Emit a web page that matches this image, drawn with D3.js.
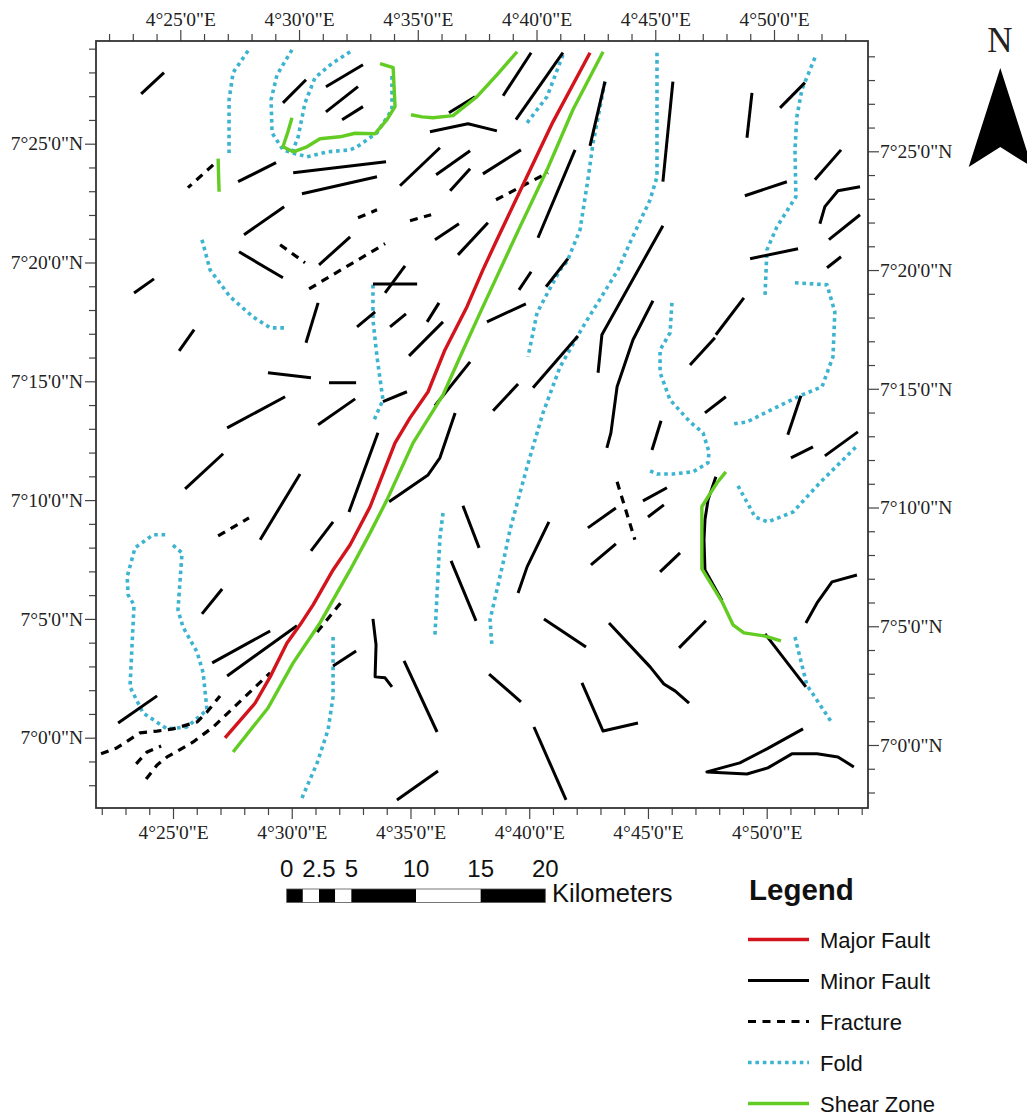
<!DOCTYPE html>
<html>
<head>
<meta charset="utf-8">
<script src="https://d3js.org/d3.v7.min.js"></script>
<style>
  body { margin: 0; background: #fff; }
  svg { display: block; }
  .axis text { font-family: "Liberation Serif", serif; font-size: 19.5px; fill: #222; }
  .axis line { stroke: #444; stroke-width: 1.2; }
  .axis path { display: none; }
  .sans { font-family: "Liberation Sans", Arial, sans-serif; fill: #111; }
  .trace { fill: none; stroke-linejoin: round; }
</style>
</head>
<body>
<svg id="map" width="1027" height="1117"></svg>
<script>
// all traces are [lon, lat] in arc minutes past 4 deg E and past 7 deg N
const majorFault = [[42.56,28.83],[41.00,25.92],[39.74,23.27],[38.64,20.96],[38.05,19.69],[37.38,18.14],[36.45,16.32],[35.74,14.56],[34.98,13.46],[34.35,12.41],[33.30,9.72],[32.46,8.12],[31.74,7.06],[30.90,5.59],[30.35,4.75],[29.80,3.99],[29.09,2.56],[28.46,1.46],[27.19,-0.01]];

const shearZones = [
  [[43.11,28.87],[41.84,26.43],[40.75,23.90],[39.61,21.50],[38.77,19.69],[37.93,17.88],[37.09,16.03],[36.37,14.43],[35.11,12.41],[34.01,10.01],[33.30,8.62],[32.46,7.06],[31.19,4.83],[30.06,3.15],[29.00,1.25],[27.53,-0.60]],
  [[39.49,28.87],[38.64,27.90],[37.80,26.98],[36.79,26.18],[35.95,26.09],[35.49,26.13],[35.02,26.22]],
  [[33.72,28.37],[34.27,28.20],[34.35,26.56],[34.01,26.01],[33.51,25.42],[32.67,25.44],[32.03,25.29],[31.19,25.21],[30.64,24.87],[30.06,24.66],[29.63,24.87],[29.84,25.50],[30.01,26.09]],
  [[26.90,24.37],[26.94,22.98]],
  [[48.28,11.19],[47.91,10.73],[47.53,10.14],[47.27,9.72],[47.27,7.11],[48.12,5.72],[48.58,4.75],[49.04,4.41],[49.93,4.28],[50.60,4.07]]
];

const folds = [
  [[28.16,28.91],[27.53,27.99],[27.36,26.85],[27.36,24.45]],
  [[30.01,28.95],[29.38,27.90],[29.13,26.85],[29.17,25.46],[29.63,24.74],[30.01,24.62],[30.64,24.45],[31.53,24.66],[32.46,24.74],[32.75,24.87],[33.59,25.46],[34.22,26.43],[34.22,27.90]],
  [[32.46,28.87],[31.74,28.41],[30.98,27.78],[30.56,26.72],[30.27,25.29],[30.01,24.62]],
  [[26.22,20.96],[26.56,19.69],[27.40,18.56],[28.37,17.71],[29.09,17.25],[29.80,17.25]],
  [[33.42,19.06],[33.42,17.59],[33.59,16.03],[33.84,14.22],[33.47,13.38]],
  [[41.42,28.74],[40.75,26.98],[39.82,25.76]],
  [[43.19,27.61],[42.69,25.04],[42.47,23.48],[42.14,21.38],[41.59,20.03],[41.30,19.69],[40.66,18.51],[40.33,17.88],[39.95,16.03]],
  [[45.38,28.83],[45.38,23.61],[45.09,22.64],[44.24,20.83],[43.74,19.69],[42.26,17.29],[41.30,15.61],[40.58,13.67],[39.91,11.40],[39.19,8.75],[38.90,7.36],[38.35,4.96],[38.43,3.86]],
  [[52.03,28.62],[51.48,27.27],[51.27,26.13],[51.19,24.74],[51.23,22.77],[50.43,21.50],[50.01,20.53],[49.93,18.64]],
  [[46.01,18.30],[45.93,17.04],[45.51,16.32],[45.51,15.36],[45.93,14.22],[46.77,13.29],[47.32,12.83],[47.57,12.03],[47.53,11.57],[46.90,11.19],[46.05,11.10],[45.38,11.10],[45.09,11.23]],
  [[51.19,19.15],[52.54,19.06],[52.87,17.92],[52.79,16.03],[52.33,14.77],[51.40,14.39],[50.01,13.71],[49.17,13.29],[48.58,13.21]],
  [[48.79,10.60],[49.51,9.29],[50.05,9.08],[51.11,9.50],[52.24,10.73],[53.80,12.28]],
  [[36.37,9.46],[36.24,8.41],[36.03,4.33]],
  [[51.19,4.24],[51.69,2.22],[52.75,0.62]],
  [[24.67,8.54],[24.16,8.54],[23.40,7.99],[23.07,6.77],[23.11,6.01],[23.36,5.59],[23.28,3.99],[23.19,2.14],[23.74,1.04],[24.75,0.37],[25.59,0.45],[26.43,1.17],[26.27,2.73],[26.01,3.61],[25.42,4.66],[25.21,5.38],[25.38,7.78],[24.88,8.20]],
  [[31.74,4.24],[31.74,1.72],[31.53,0.33],[31.07,-1.06],[30.43,-2.54]]
];

const fractures = [
  [[26.69,24.11],[25.63,23.15]],
  [[29.51,20.75],[30.56,19.99]],
  [[30.73,18.89],[33.93,20.79]],
  [[32.79,21.88],[33.59,22.22]],
  [[34.98,21.76],[35.87,22.01]],
  [[38.60,22.64],[40.79,23.78]],
  [[26.90,8.49],[28.20,9.25]],
  [[43.70,10.77],[44.45,8.33]],
  [[21.97,-0.68],[22.63,-0.43],[23.61,0.20],[24.33,0.28],[25.00,0.37],[26.01,0.66],[26.43,1.08],[26.98,1.76]],
  [[23.45,-1.10],[23.91,-0.60],[24.50,-0.35]],
  [[23.87,-1.74],[24.33,-1.15],[24.75,-0.81],[25.85,-0.18],[26.69,0.45],[27.53,1.25],[29.09,2.73]],
  [[31.07,4.45],[32.16,5.80]]
];

const minorFaults = [
  [[23.66,27.10],[24.62,27.99]],
  [[29.63,26.72],[30.60,27.69]],
  [[31.44,27.40],[33.00,28.32]],
  [[31.44,26.34],[32.79,27.40]],
  [[32.12,26.01],[33.00,26.56]],
  [[27.74,23.40],[29.34,24.20]],
  [[30.06,23.78],[33.97,24.24]],
  [[30.43,22.89],[33.59,23.61]],
  [[27.99,21.17],[29.68,22.35]],
  [[27.78,20.45],[29.63,19.36]],
  [[31.15,19.90],[32.46,21.08]],
  [[23.36,18.72],[24.20,19.31]],
  [[36.62,26.30],[37.72,26.98]],
  [[35.82,25.50],[37.42,25.84],[38.64,25.54]],
  [[38.90,27.02],[40.08,28.83]],
  [[39.44,26.01],[41.42,28.83]],
  [[43.19,27.61],[42.56,24.91]],
  [[46.05,27.61],[45.63,23.40]],
  [[34.56,23.23],[36.24,24.83]],
  [[36.08,23.69],[37.51,24.70]],
  [[36.67,23.02],[37.51,23.95]],
  [[38.05,23.73],[39.65,24.74]],
  [[40.37,21.04],[41.93,24.74]],
  [[36.03,20.96],[37.04,21.63]],
  [[37.00,20.32],[38.26,21.67]],
  [[33.42,19.10],[35.28,19.10]],
  [[33.93,18.72],[34.77,19.86]],
  [[39.57,18.85],[40.08,19.61]],
  [[40.71,18.98],[41.63,20.16]],
  [[45.63,21.55],[43.06,16.96],[42.90,15.36]],
  [[45.21,18.39],[44.37,16.75],[43.70,14.77],[43.44,12.83],[43.27,12.20]],
  [[49.17,25.25],[49.38,27.14]],
  [[50.56,26.51],[51.61,27.57]],
  [[52.03,23.48],[53.13,24.74]],
  [[49.08,22.81],[50.85,23.40]],
  [[52.24,21.63],[52.45,22.35],[53.00,23.02],[53.93,23.19]],
  [[52.62,20.96],[53.93,22.01]],
  [[49.30,20.16],[51.32,20.58]],
  [[52.54,19.78],[53.13,20.24]],
  [[25.26,16.28],[25.89,17.17]],
  [[30.60,16.62],[31.11,18.30]],
  [[32.75,17.29],[33.51,17.92]],
  [[29.00,15.36],[30.81,15.15]],
  [[31.57,14.94],[32.71,14.94]],
  [[27.28,13.04],[29.72,14.35]],
  [[31.11,13.17],[32.67,14.26]],
  [[25.51,10.47],[27.11,11.95]],
  [[32.41,9.50],[33.63,12.83]],
  [[28.67,8.33],[30.35,11.10]],
  [[30.81,7.86],[31.74,9.08]],
  [[34.14,17.29],[34.81,17.84]],
  [[35.70,17.50],[36.20,18.30]],
  [[34.94,16.07],[36.37,17.50]],
  [[38.22,17.50],[39.86,18.26]],
  [[36.03,13.97],[37.51,15.82]],
  [[33.84,14.14],[34.85,14.56]],
  [[38.48,13.76],[39.53,14.89]],
  [[40.16,14.73],[42.05,16.91]],
  [[45.17,12.11],[45.55,13.34]],
  [[34.10,9.93],[35.74,11.06],[36.24,11.78],[36.88,13.67]],
  [[37.21,9.76],[37.89,7.99]],
  [[42.47,8.83],[43.65,9.67]],
  [[44.79,9.97],[45.80,10.52]],
  [[45.00,9.29],[45.67,9.80]],
  [[46.77,15.69],[47.82,16.83]],
  [[47.86,16.96],[49.04,18.51]],
  [[47.40,13.67],[48.28,14.35]],
  [[50.89,12.75],[51.44,14.39]],
  [[51.02,11.78],[51.95,12.24]],
  [[52.45,11.86],[53.84,12.87]],
  [[47.86,10.98],[47.53,10.01],[47.40,9.17],[47.36,8.33],[47.40,7.06],[48.12,5.76]],
  [[39.53,6.09],[39.91,7.19],[40.83,9.08]],
  [[42.60,7.27],[43.65,8.16]],
  [[45.51,6.98],[46.35,7.78]],
  [[36.71,7.44],[37.76,4.92]],
  [[33.42,5.00],[33.55,3.91],[33.51,2.56],[33.93,2.52],[34.22,2.14]],
  [[31.74,3.02],[32.71,3.65]],
  [[34.73,3.23],[36.12,0.24]],
  [[38.31,2.68],[39.65,1.51]],
  [[40.62,5.00],[42.39,3.82]],
  [[43.36,4.83],[45.09,2.98],[45.67,2.26],[46.14,1.97],[46.73,1.46]],
  [[42.22,2.31],[43.11,0.28],[44.58,0.62]],
  [[40.20,0.45],[41.55,-2.62]],
  [[34.43,-2.62],[36.16,-1.40]],
  [[46.31,3.78],[47.44,4.92]],
  [[49.93,4.37],[51.65,2.14]],
  [[51.65,4.83],[52.12,5.67],[52.75,6.56],[53.80,6.85]],
  [[51.53,0.37],[50.01,-0.47],[48.87,-1.06],[47.48,-1.44],[49.17,-1.53],[50.05,-1.27],[51.06,-0.68],[52.12,-0.68],[53.00,-0.81],[53.67,-1.23]],
  [[22.69,0.62],[24.33,1.76]],
  [[26.22,5.21],[27.07,6.26]],
  [[26.65,3.15],[29.09,4.49]],
  [[27.28,2.60],[30.22,4.71]]
];

const topLonTicks = d3.range(22, 54);
const bottomLonTicks = d3.range(22, 55);
const latTicks = d3.range(-2, 30);

const scaleStops = [0, 1.25, 2.5, 3.75, 5, 10, 15, 20];
const scaleLabels = [0, 2.5, 5, 10, 15, 20];

const legendNames = ["Major Fault", "Minor Fault", "Fracture", "Fold", "Shear Zone"];

const red = "#d3141c", black = "#000", teal = "#3cb3cf", green = "#62cc22";
const lineStyles = {
  "Major Fault": {color: red, width: 3.4, dash: null},
  "Minor Fault": {color: black, width: 3, dash: null},
  "Fracture": {color: black, width: 3.2, dash: "8,6.5"},
  "Fold": {color: teal, width: 3.6, dash: "3.6,3.8"},
  "Shear Zone": {color: green, width: 3.4, dash: null}
};

const svg = d3.select("#map");

const frameLeft = 96, frameRight = 868, frameTop = 41, frameBottom = 808;

// map grid is sheared a little, so each side of the frame gets its own scale
const xs = d3.scaleLinear().domain([25, 50]).range([173, 766.7]);
const ys = d3.scaleLinear().domain([0, 25]).range([737.7, 143.7]);
const xsTop = d3.scaleLinear().domain([25, 50]).range([180.3, 774]);
const ysRight = d3.scaleLinear().domain([0, 25]).range([745, 151.3]);

const line = d3.line().x(d => xs(d[0])).y(d => ys(d[1]));

function lonLabel(m) { return m % 5 === 0 ? `4°${m}'0"E` : ""; }
function latLabel(m) { return m >= 0 && m % 5 === 0 ? `7°${m}'0"N` : ""; }
function isMajorLat(m) { return m % 5 === 0 && m >= 0; }

// axes
svg.append("g").attr("class", "axis").attr("transform", `translate(0,${frameTop})`)
  .call(d3.axisTop(xsTop).tickValues(topLonTicks).tickFormat(lonLabel).tickSize(7).tickPadding(8))
  .selectAll(".tick line").filter(d => d % 5 === 0).attr("y2", -11);

svg.append("g").attr("class", "axis").attr("transform", `translate(0,${frameBottom})`)
  .call(d3.axisBottom(xs).tickValues(bottomLonTicks).tickFormat(lonLabel).tickSize(7).tickPadding(10))
  .selectAll(".tick line").filter(d => d % 5 === 0).attr("y2", 11);

svg.append("g").attr("class", "axis").attr("transform", `translate(${frameLeft},0)`)
  .call(d3.axisLeft(ys).tickValues(latTicks).tickFormat(latLabel).tickSize(7).tickPadding(6))
  .selectAll(".tick line").filter(isMajorLat).attr("x2", -11);

svg.append("g").attr("class", "axis").attr("transform", `translate(${frameRight},0)`)
  .call(d3.axisRight(ysRight).tickValues(latTicks).tickFormat(latLabel).tickSize(7).tickPadding(5))
  .selectAll(".tick line").filter(isMajorLat).attr("x2", 11);

svg.append("rect")
  .attr("x", frameLeft).attr("y", frameTop)
  .attr("width", frameRight - frameLeft).attr("height", frameBottom - frameTop)
  .attr("fill", "none").attr("stroke", "#333").attr("stroke-width", 1.8);

// traces
function drawTraces(data, name) {
  const s = lineStyles[name];
  svg.append("g").selectAll("path")
    .data(data)
    .enter()
    .append("path")
    .attr("class", "trace")
    .attr("d", line)
    .attr("stroke", s.color)
    .attr("stroke-width", s.width)
    .attr("stroke-dasharray", s.dash);
}

drawTraces(folds, "Fold");
drawTraces(fractures, "Fracture");
drawTraces(minorFaults, "Minor Fault");
drawTraces(shearZones, "Shear Zone");
drawTraces([majorFault], "Major Fault");

// north arrow
svg.append("text")
  .attr("x", 1000).attr("y", 52)
  .attr("text-anchor", "middle")
  .style("font-family", "'Liberation Serif', serif")
  .style("font-size", "35px")
  .style("fill", "#222")
  .text("N");

svg.append("path")
  .attr("d", d3.line()([[1000.3, 68], [968.7, 167], [1000.3, 147], [1032, 167]]) + "Z")
  .attr("fill", black);

// scale bar
const km = d3.scaleLinear().domain([0, 20]).range([286.7, 545.3]);

svg.append("g").selectAll("rect")
  .data(d3.pairs(scaleStops))
  .enter()
  .append("rect")
  .attr("x", d => km(d[0]))
  .attr("y", 889)
  .attr("width", d => km(d[1]) - km(d[0]))
  .attr("height", 13.5)
  .attr("fill", (d, i) => i % 2 === 0 ? black : "#fff");

svg.append("rect")
  .attr("x", km(0)).attr("y", 889)
  .attr("width", km(20) - km(0)).attr("height", 13.5)
  .attr("fill", "none").attr("stroke", "#555").attr("stroke-width", 0.8);

svg.append("g").selectAll("text")
  .data(scaleLabels)
  .enter()
  .append("text")
  .attr("class", "sans")
  .attr("x", d => km(d))
  .attr("y", 877)
  .attr("text-anchor", "middle")
  .style("font-size", "24px")
  .text(d => d);

svg.append("text")
  .attr("class", "sans")
  .attr("x", 552).attr("y", 902)
  .style("font-size", "25.5px")
  .text("Kilometers");

// legend
svg.append("text")
  .attr("class", "sans")
  .attr("x", 749).attr("y", 900)
  .style("font-size", "29.5px")
  .style("font-weight", "bold")
  .text("Legend");

const legendY = d3.scalePoint().domain(legendNames).range([939.5, 1103.5]);

const legendRows = svg.append("g").selectAll("g")
  .data(legendNames)
  .enter()
  .append("g")
  .attr("transform", d => `translate(0,${legendY(d)})`);

legendRows.append("line")
  .attr("x1", 748).attr("x2", 809)
  .attr("stroke", d => lineStyles[d].color)
  .attr("stroke-width", d => lineStyles[d].width)
  .attr("stroke-dasharray", d => lineStyles[d].dash);

legendRows.append("text")
  .attr("class", "sans")
  .attr("x", 820).attr("y", 8.5)
  .style("font-size", "22px")
  .text(d => d);
</script>
</body>
</html>
